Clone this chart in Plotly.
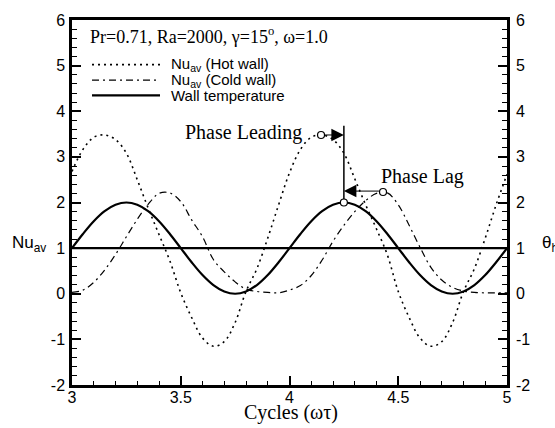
import plotly.graph_objects as go

# ---------------- data ----------------
cycles = [3.00, 3.05, 3.10, 3.15, 3.20, 3.25, 3.30, 3.35, 3.40, 3.45,
          3.50, 3.55, 3.60, 3.65, 3.70, 3.75, 3.80, 3.85, 3.90, 3.95,
          4.00, 4.05, 4.10, 4.15, 4.20, 4.25, 4.30, 4.35, 4.40, 4.45,
          4.50, 4.55, 4.60, 4.65, 4.70, 4.75, 4.80, 4.85, 4.90, 4.95, 5.00]

nu_hot = [2.68, 3.16, 3.43, 3.48, 3.38, 3.08, 2.50, 1.88, 1.30, 0.72,
          0.02, -0.52, -0.97, -1.15, -1.05, -0.63, 0.05, 0.55, 1.22, 1.95,
          2.65, 3.16, 3.43, 3.48, 3.38, 3.08, 2.52, 1.95, 1.42, 0.85,
          0.05, -0.52, -0.97, -1.15, -1.05, -0.63, 0.05, 0.55, 1.22, 1.95, 2.62]

nu_cold = [0.03, 0.08, 0.25, 0.52, 0.86, 1.25, 1.63, 1.96, 2.20, 2.21,
           2.02, 1.62, 1.25, 0.75, 0.48, 0.26, 0.10, 0.05, 0.03, 0.02,
           0.08, 0.18, 0.40, 0.74, 1.15, 1.50, 1.80, 2.04, 2.20, 2.21,
           1.95, 1.50, 1.02, 0.58, 0.30, 0.14, 0.06, 0.03, 0.02, 0.02, 0.02]

wall_temp = [1.00, 1.31, 1.59, 1.81, 1.95, 2.00, 1.95, 1.81, 1.59, 1.31,
             1.00, 0.69, 0.41, 0.19, 0.05, 0.00, 0.05, 0.19, 0.41, 0.69,
             1.00, 1.31, 1.59, 1.81, 1.95, 2.00, 1.95, 1.81, 1.59, 1.31,
             1.00, 0.69, 0.41, 0.19, 0.05, 0.00, 0.05, 0.19, 0.41, 0.69, 1.00]

ref_x = [3.0, 5.0]
ref_y = [1.0, 1.0]

# phase markers: hot-wall peak, wall-temperature peak, cold-wall peak
marker_t = [4.145, 4.25, 4.43]
marker_v = [3.48, 2.00, 2.23]
phase_line_t = [4.25, 4.25]
phase_line_v = [3.68, 2.00]

x_ticks = [3, 3.5, 4, 4.5, 5]
x_tick_text = ["3", "3.5", "4", "4.5", "5"]
y_ticks = [-2, -1, 0, 1, 2, 3, 4, 5, 6]
y_tick_text = ["-2", "-1", "0", "1", "2", "3", "4", "5", "6"]

SERIF = "Liberation Serif"
SANS = "Liberation Sans"

fig = go.Figure()

fig.add_trace(go.Scatter(x=cycles, y=nu_hot, mode="lines", name="Nu_av (Hot wall)",
                         line=dict(color="black", width=1.6, dash="2px,4px", shape="spline")))
fig.add_trace(go.Scatter(x=cycles, y=nu_cold, mode="lines", name="Nu_av (Cold wall)",
                         line=dict(color="black", width=1.2, dash="7px,4px,2px,4px", shape="spline")))
fig.add_trace(go.Scatter(x=cycles, y=wall_temp, mode="lines", name="Wall temperature",
                         line=dict(color="black", width=2.2, shape="spline")))
fig.add_trace(go.Scatter(x=ref_x, y=ref_y, mode="lines", yaxis="y2",
                         line=dict(color="black", width=2.2), showlegend=False))
fig.add_trace(go.Scatter(x=phase_line_t, y=phase_line_v, mode="lines",
                         line=dict(color="black", width=1.5), showlegend=False))
fig.add_trace(go.Scatter(x=marker_t, y=marker_v, mode="markers",
                         marker=dict(symbol="circle", size=7, color="white",
                                     line=dict(color="black", width=1.2)),
                         showlegend=False))

# arrows
fig.add_annotation(x=phase_line_t[0], y=marker_v[0], ax=marker_t[0] + 0.012, ay=marker_v[0],
                   xref="x", yref="y", axref="x", ayref="y", text="", showarrow=True,
                   arrowhead=2, arrowsize=2.5, arrowwidth=1.0, arrowcolor="black")
fig.add_annotation(x=phase_line_t[0], y=marker_v[2] + 0.02, ax=marker_t[2] - 0.012, ay=marker_v[2] + 0.02,
                   xref="x", yref="y", axref="x", ayref="y", text="", showarrow=True,
                   arrowhead=2, arrowsize=2.5, arrowwidth=1.0, arrowcolor="black")

# labels on the plot
fig.add_annotation(x=4.067, y=3.54, xref="x", yref="y", text="Phase Leading", showarrow=False,
                   xanchor="right", yanchor="middle", font=dict(family=SERIF, size=20, color="black"))
fig.add_annotation(x=4.41, y=2.56, xref="x", yref="y", text="Phase Lag", showarrow=False,
                   xanchor="left", yanchor="middle", font=dict(family=SERIF, size=20, color="black"))

# title inside plot
fig.add_annotation(x=0.036, y=0.958, xref="paper", yref="paper",
                   text="Pr=0.71, Ra=2000, \u03b3=15<sup>o</sup>, \u03c9=1.0", showarrow=False,
                   xanchor="left", yanchor="middle", font=dict(family=SERIF, size=18, color="black"))

# manual legend
leg_rows = [0.8777, 0.8353, 0.7935]
leg_styles = [dict(width=1.6, dash="2px,4px"), dict(width=1.2, dash="7px,4px,2px,4px"), dict(width=2.2)]
leg_text = ["Nu<sub>av</sub> (Hot wall)", "Nu<sub>av</sub> (Cold wall)", "Wall temperature"]
for yy, st, tx in zip(leg_rows, leg_styles, leg_text):
    fig.add_shape(type="line", xref="paper", yref="paper", x0=0.046, x1=0.2023, y0=yy, y1=yy,
                  line=dict(color="black", **st))
    fig.add_annotation(x=0.2253, y=yy, xref="paper", yref="paper", text=tx, showarrow=False,
                       xanchor="left", yanchor="middle", borderpad=0,
                       font=dict(family=SANS, size=15, color="black"))

# axis titles
fig.add_annotation(x=-0.143, y=0.385, xref="paper", yref="paper", text="Nu<sub>av</sub>", showarrow=False,
                   xanchor="left", yanchor="middle", font=dict(family=SANS, size=17, color="black"))
fig.add_annotation(x=1.076, y=0.385, xref="paper", yref="paper", text="\u03b8<sub>h</sub>", showarrow=False,
                   xanchor="left", yanchor="middle", font=dict(family=SANS, size=17, color="black"))
fig.add_annotation(x=0.503, y=-0.076, xref="paper", yref="paper", text="Cycles (\u03c9\u03c4)", showarrow=False,
                   xanchor="center", yanchor="middle", borderpad=0,
                   font=dict(family=SERIF, size=20, color="black"))

axis_common = dict(showline=True, linewidth=2.5, linecolor="black", showgrid=False, zeroline=False,
                   ticks="inside", ticklen=9, tickwidth=1.5, tickcolor="black",
                   tickfont=dict(family=SANS, size=16, color="black"))

fig.update_layout(
    width=555, height=428,
    margin=dict(l=72, r=48, t=17, b=43),
    plot_bgcolor="white", paper_bgcolor="white",
    showlegend=False,
    xaxis=dict(range=[3, 5], tickvals=x_ticks, ticktext=x_tick_text, mirror=True,
               minor=dict(dtick=0.1, ticks="inside", ticklen=4, tickwidth=1, tickcolor="black"),
               ticklabelstandoff=-4, **axis_common),
    yaxis=dict(range=[-2, 6], tickvals=y_ticks, ticktext=y_tick_text,
               minor=dict(dtick=0.2, ticks="inside", ticklen=5, tickwidth=1, tickcolor="black"),
               ticklabelstandoff=1, **axis_common),
    yaxis2=dict(range=[-2, 6], tickvals=y_ticks, ticktext=y_tick_text, overlaying="y", side="right",
                minor=dict(dtick=0.2, ticks="inside", ticklen=5, tickwidth=1, tickcolor="black"),
                ticklabelstandoff=3, **axis_common),
)

fig.write_html("out.html")
